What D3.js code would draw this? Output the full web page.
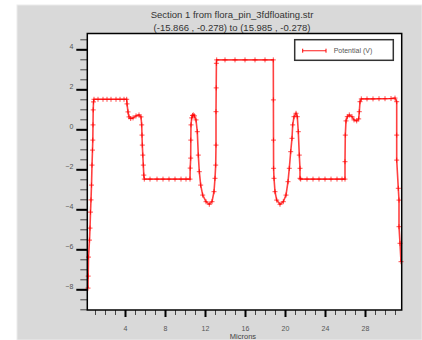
<!DOCTYPE html>
<html>
<head>
<meta charset="utf-8">
<script src="https://cdn.jsdelivr.net/npm/d3@7"></script>
<style>
  body { margin: 0; background: #fff; }
  svg { display: block; font-family: "Liberation Sans", Arial, sans-serif; }
</style>
</head>
<body>
<div id="chart"></div>
<script>
// cutline: distance along the section (microns) and potential (V)
const distance = [
  0.30, 0.32, 0.35, 0.45, 0.50, 0.55, 0.60, 0.65, 0.70, 0.75, 0.78, 0.80, 0.82, 0.85, 0.90,
  1.3, 1.8, 2.2, 2.6, 3.1, 3.5, 3.9, 4.17,
  4.20, 4.30, 4.40, 4.57, 4.80, 5.10, 5.40, 5.60, 5.67, 5.70, 5.73, 5.78, 5.83, 5.88, 5.93,
  6.5, 7.2, 7.8, 8.4, 9.0, 9.6, 10.1, 10.50,
  10.52, 10.57, 10.58, 10.60, 10.67, 10.75, 10.83, 10.95, 11.10, 11.23, 11.33, 11.43, 11.57, 11.77,
  12.10, 12.43, 12.70, 12.90, 13.00, 13.07, 13.10, 13.10, 13.12, 13.14, 13.17,
  14.0, 15.0, 16.0, 17.0, 18.0, 18.83,
  18.84, 18.85, 18.86, 18.90, 19.00, 19.17, 19.50, 19.83, 20.10, 20.30, 20.43, 20.57, 20.70, 20.77,
  20.90, 21.10, 21.23, 21.33, 21.43, 21.50, 21.50, 21.57,
  22.2, 22.8, 23.4, 24.0, 24.6, 25.2, 25.7, 26.00,
  26.00, 26.03, 26.10, 26.23, 26.43, 26.70, 26.90, 27.17, 27.37, 27.43, 27.50, 27.63,
  28.2, 28.8, 29.4, 30.0, 30.6, 31.00,
  31.17, 31.17, 31.17, 31.33, 31.40, 31.40, 31.50, 31.60
];
const potential = [
  -7.94, -7.34, -6.39, -5.54, -4.94, -4.14, -3.53, -2.79, -1.79, -1.04, -0.54, 0.22, 0.97, 1.37, 1.50,
  1.50, 1.50, 1.50, 1.50, 1.50, 1.50, 1.50, 1.50,
  1.27, 0.87, 0.62, 0.54, 0.57, 0.67, 0.72, 0.62, 0.22, -0.29, -0.79, -1.29, -1.79, -2.29, -2.49,
  -2.49, -2.49, -2.49, -2.49, -2.49, -2.49, -2.49, -2.49,
  -1.94, -1.44, -0.54, 0.22, 0.57, 0.69, 0.72, 0.67, 0.47, -0.12, -1.29, -2.12, -2.79, -3.29,
  -3.62, -3.75, -3.62, -3.12, -2.45, -1.79, -0.79, 0.88, 2.07, 3.30, 3.47,
  3.47, 3.47, 3.47, 3.47, 3.47, 3.47,
  1.47, -0.54, -1.95, -2.45, -3.12, -3.54, -3.75, -3.62, -3.29, -2.62, -1.95, -1.12, -0.45, 0.22,
  0.63, 0.80, 0.63, -0.12, -1.29, -1.95, -2.45, -2.49,
  -2.49, -2.49, -2.49, -2.49, -2.49, -2.49, -2.49, -2.49,
  -1.62, -0.29, 0.42, 0.63, 0.72, 0.63, 0.47, 0.42, 0.52, 0.88, 1.38, 1.52,
  1.52, 1.52, 1.53, 1.53, 1.54, 1.56,
  1.38, -0.29, -1.54, -2.95, -3.54, -4.87, -5.70, -6.62
];
const xTicks = [4, 8, 12, 16, 20, 24, 28];
const yTicks = [-8, -6, -4, -2, 0, 2, 4];
const titleLines = ["Section 1 from flora_pin_3fdfloating.str", "(-15.866 , -0.278) to (15.985 , -0.278)"];
const seriesName = "Potential (V)";
const xLabel = "Microns";

const width = 422, height = 340;
const plot = {left: 87.3, right: 401.7, top: 33.5, bottom: 310};

const data = distance.map((d, i) => ({x: d, y: potential[i]}));

const x = d3.scaleLinear().domain([0.23, 31.67]).range([plot.left, plot.right]);
const y = d3.scaleLinear().domain([-9.035, 4.79]).range([plot.bottom, plot.top]);

const svg = d3.select('#chart').append('svg')
  .attr('width', width).attr('height', height);

// grey frame behind the plot
svg.append('rect').attr('x', 17).attr('y', 5).attr('width', width - 17).attr('height', height - 5)
  .attr('fill', '#d9d9d9').attr('stroke', '#ebebeb').attr('stroke-width', 1);

svg.append('rect')
  .attr('x', plot.left).attr('y', plot.top)
  .attr('width', plot.right - plot.left).attr('height', plot.bottom - plot.top)
  .attr('fill', '#fff');

// title
svg.append('g').selectAll('text').data(titleLines).enter().append('text')
  .attr('x', 232).attr('y', (d, i) => 18 + i * 13)
  .attr('text-anchor', 'middle').attr('font-size', 9.5).attr('fill', '#333')
  .text(d => d);

// y axis: major ticks every 2, minor every 0.5
const yMinor = d3.range(-9, 4.8, 0.5);
const yAxis = g => g
  .attr('transform', `translate(${plot.left}, 0)`)
  .call(d3.axisLeft(y).tickValues(yMinor).tickSize(7).tickFormat(''))
  .call(g => g.select('.domain').remove())
  .call(g => g.selectAll('line').attr('stroke', '#444').attr('stroke-width', 1));
svg.append('g').call(yAxis);
svg.append('g')
  .attr('transform', `translate(${plot.left}, 0)`)
  .call(d3.axisLeft(y).tickValues(yTicks).tickSize(11).tickPadding(3))
  .call(g => g.select('.domain').remove())
  .call(g => g.selectAll('line').attr('stroke', '#000').attr('stroke-width', 2))
  .call(g => g.selectAll('text').attr('font-size', 7).attr('fill', '#555')
    .attr('font-family', '"Liberation Sans", Arial, sans-serif').attr('dy', '-0.15em'));

// x axis: minor every micron, major every 4
const xMinor = d3.range(1, 32, 1);
svg.append('g')
  .attr('transform', `translate(0, ${plot.bottom})`)
  .call(d3.axisBottom(x).tickValues(xMinor).tickSize(5).tickFormat(''))
  .call(g => g.select('.domain').remove())
  .call(g => g.selectAll('line').attr('stroke', '#444').attr('stroke-width', 1));
svg.append('g')
  .attr('transform', `translate(0, ${plot.bottom})`)
  .call(d3.axisBottom(x).tickValues(xTicks).tickSize(7).tickPadding(9))
  .call(g => g.select('.domain').remove())
  .call(g => g.selectAll('line').attr('stroke', '#000').attr('stroke-width', 2))
  .call(g => g.selectAll('text').attr('font-size', 7).attr('fill', '#555')
    .attr('font-family', '"Liberation Sans", Arial, sans-serif'));

svg.append('text')
  .attr('x', 243).attr('y', 338.5)
  .attr('text-anchor', 'middle').attr('font-size', 7.5).attr('fill', '#444')
  .text(xLabel);

// curve
const line = d3.line().x(d => x(d.x)).y(d => y(d.y));
svg.append('path').datum(data)
  .attr('d', line)
  .attr('fill', 'none').attr('stroke', '#ff0000').attr('stroke-width', 1.6)
  .attr('stroke-opacity', 0.75);

const cross = 'M-2.5,0H2.5M0,-2.5V2.5';
svg.append('g').selectAll('path').data(data).enter().append('path')
  .attr('transform', d => `translate(${x(d.x)},${y(d.y)})`)
  .attr('d', cross)
  .attr('stroke', '#ff0000').attr('stroke-width', 1).attr('stroke-opacity', 0.7);

// plot border
svg.append('rect')
  .attr('x', plot.left).attr('y', plot.top)
  .attr('width', plot.right - plot.left).attr('height', plot.bottom - plot.top)
  .attr('fill', 'none').attr('stroke', '#000').attr('stroke-width', 1.5);

// legend
const legend = svg.append('g').attr('transform', 'translate(294.7, 39.7)');
legend.append('rect').attr('width', 98.6).attr('height', 20.6)
  .attr('fill', '#fff').attr('stroke', '#333').attr('stroke-width', 1.5);
legend.append('line').attr('x1', 8).attr('x2', 31.3).attr('y1', 11).attr('y2', 11)
  .attr('stroke', '#ff0000').attr('stroke-width', 1.2).attr('stroke-opacity', 0.75);
legend.selectAll('path').data([8, 31.3]).enter().append('path')
  .attr('transform', d => `translate(${d},11)`)
  .attr('d', 'M0,-2V2').attr('stroke', '#ff0000').attr('stroke-width', 1);
legend.append('text').attr('x', 39).attr('y', 13.5)
  .attr('font-size', 7).attr('fill', '#555').text(seriesName);
</script>
</body>
</html>
